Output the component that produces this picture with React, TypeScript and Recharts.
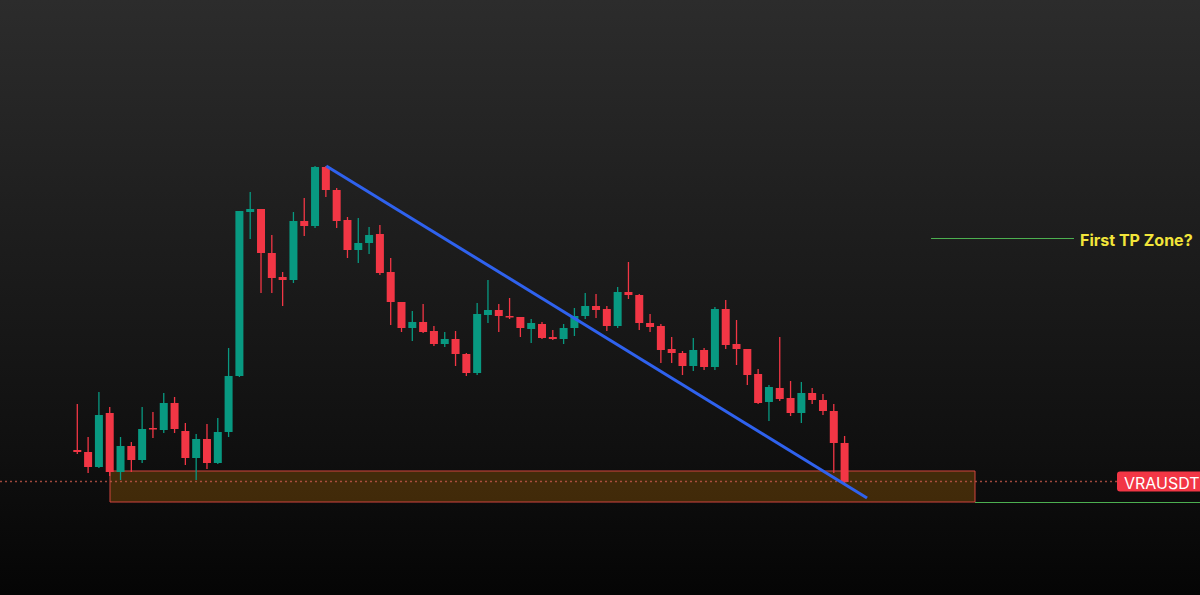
import React from 'react';
import {
  ComposedChart,
  Bar,
  XAxis,
  YAxis,
  ReferenceArea,
  ReferenceLine,
  ReferenceDot,
} from 'recharts';

// OHLC values (price units)
const opens = [
  1.70, 1.68, 1.53, 2.07, 1.48, 1.74, 1.60, 1.92, 1.90, 2.17,
  1.89, 1.62, 1.81, 1.57, 1.88, 2.44, 4.08, 4.11, 3.67, 3.43,
  3.40, 3.99, 3.94, 4.53, 4.30, 4.00, 3.70, 3.77, 3.86, 3.48,
  3.18, 2.92, 2.98, 2.89, 2.76, 2.81, 2.66, 2.47, 3.05, 3.10,
  3.04, 3.03, 2.91, 2.96, 2.83, 2.81, 2.92, 3.04, 3.14, 3.11,
  2.94, 3.28, 3.25, 2.97, 2.94, 2.71, 2.67, 2.54, 2.70, 2.53,
  3.11, 2.76, 2.71, 2.46, 2.18, 2.32, 2.22, 2.07, 2.27, 2.20,
  2.09, 1.77,
];
const highs = [
  2.16, 1.83, 2.28, 2.13, 1.83, 1.78, 2.13, 2.08, 2.27, 2.23,
  1.97, 1.86, 1.96, 2.02, 2.72, 4.09, 4.28, 4.11, 3.85, 3.48,
  4.08, 4.22, 4.54, 4.54, 4.32, 4.03, 4.02, 3.93, 3.95, 3.62,
  3.18, 3.09, 3.16, 2.94, 2.88, 2.89, 2.67, 3.17, 3.40, 3.16,
  3.22, 3.03, 3.01, 2.98, 2.90, 2.96, 3.12, 3.27, 3.26, 3.14,
  3.33, 3.58, 3.26, 3.06, 2.96, 2.83, 2.69, 2.82, 2.72, 3.13,
  3.20, 3.00, 2.71, 2.51, 2.35, 2.83, 2.39, 2.38, 2.32, 2.26,
  2.16, 1.84,
];
const lows = [
  1.66, 1.47, 1.52, 1.44, 1.40, 1.48, 1.57, 1.82, 1.87, 1.87,
  1.55, 1.40, 1.51, 1.56, 1.83, 2.43, 3.81, 3.27, 3.27, 3.14,
  3.37, 3.84, 3.92, 4.23, 3.92, 3.62, 3.57, 3.66, 3.45, 2.95,
  2.88, 2.79, 2.87, 2.74, 2.73, 2.54, 2.44, 2.45, 2.97, 2.88,
  3.01, 2.83, 2.77, 2.81, 2.80, 2.76, 2.84, 3.01, 3.02, 2.89,
  2.92, 3.21, 2.90, 2.88, 2.57, 2.57, 2.45, 2.49, 2.50, 2.50,
  2.71, 2.55, 2.35, 2.16, 1.99, 2.19, 2.04, 1.97, 2.16, 2.05,
  1.47, 1.37,
];
const closes = [
  1.68, 1.53, 2.05, 1.48, 1.74, 1.60, 1.91, 1.91, 2.17, 1.91,
  1.62, 1.81, 1.57, 1.88, 2.44, 4.09, 4.11, 3.67, 3.42, 3.40,
  3.99, 3.94, 4.53, 4.30, 3.99, 3.70, 3.77, 3.85, 3.47, 3.18,
  2.92, 2.98, 2.88, 2.76, 2.81, 2.66, 2.47, 3.06, 3.10, 3.04,
  3.03, 2.92, 2.97, 2.82, 2.81, 2.92, 3.04, 3.14, 3.10, 2.94,
  3.28, 3.25, 2.97, 2.93, 2.70, 2.67, 2.54, 2.70, 2.53, 3.11,
  2.75, 2.71, 2.45, 2.17, 2.33, 2.21, 2.07, 2.27, 2.20, 2.09,
  1.77, 1.38,
];

// annotation values
const lastPrice = 1.385;
const zone = { x1: 2.99, x2: 83.03, y1: 1.18, y2: 1.49 };
const trend = { x1: 23, y1: 4.54, x2: 73.04, y2: 1.22 };
const tpLine = { x1: 78.96, x2: 92.19, y: 3.815 };
const tpLabel = { x: 92.75, y: 3.8, text: 'First TP Zone?' };
const zoneExit = { x1: 83.03, x2: 103.85, y: 1.175 };
const symbolTag = { x: 96.17, text: 'VRAUSDT' };
const xDomain: [number, number] = [-7.19, 103.85];
const yDomain: [number, number] = [0.25, 6.2];

const UP = '#089981';
const DOWN = '#f23645';

const candles = opens.map((o, i) => ({
  i,
  open: o,
  high: highs[i],
  low: lows[i],
  close: closes[i],
  range: [lows[i], highs[i]],
}));

const Candle = (props: any) => {
  const { x, y, width, height, payload } = props;
  if (!payload) return null;
  const { open, close, high, low } = payload;
  const ratio = height / (high - low || 1);
  const color = close >= open ? UP : DOWN;
  const top = y + (high - Math.max(open, close)) * ratio;
  const bot = y + (high - Math.min(open, close)) * ratio;
  const bh = Math.max(bot - top, 1.5);
  const cx = x + width / 2;
  return (
    <g>
      <line x1={cx} x2={cx} y1={y} y2={y + height} stroke={color} strokeWidth={1.3} />
      <rect x={x} y={top} width={width} height={bh} fill={color} />
    </g>
  );
};

export default function App() {
  return (
    <div
      style={{
        position: 'fixed',
        left: 0,
        top: 0,
        width: 1200,
        height: 595,
        background: 'linear-gradient(to bottom, #2c2c2c 0%, #1b1b1b 45%, #101010 75%, #050505 100%)',
        fontFamily: 'Inter, "Noto Sans", sans-serif',
      }}
    >
      <ComposedChart
        width={1200}
        height={595}
        data={candles}
        margin={{ top: 0, right: 0, bottom: 0, left: 0 }}
      >
        <XAxis dataKey="i" type="number" domain={xDomain} hide allowDataOverflow />
        <YAxis type="number" domain={yDomain} hide allowDataOverflow />
        <ReferenceArea
          x1={zone.x1}
          x2={zone.x2}
          y1={zone.y1}
          y2={zone.y2}
          fill="#ff9800"
          fillOpacity={0.22}
          stroke="#d2453e"
          strokeWidth={1}
        />
        <ReferenceLine
          y={lastPrice}
          stroke="#c4584a"
          strokeOpacity={0.8}
          strokeDasharray="2 3"
          strokeWidth={1.3}
        />
        <ReferenceLine
          segment={[
            { x: zoneExit.x1, y: zoneExit.y },
            { x: zoneExit.x2, y: zoneExit.y },
          ]}
          stroke="#4caf50"
          strokeWidth={1}
        />
        <ReferenceLine
          segment={[
            { x: tpLine.x1, y: tpLine.y },
            { x: tpLine.x2, y: tpLine.y },
          ]}
          stroke="#4caf50"
          strokeWidth={1}
        />
        <Bar
          dataKey="range"
          barSize={8}
          shape={<Candle />}
          isAnimationActive={false}
        />
        <ReferenceLine
          segment={[
            { x: trend.x1, y: trend.y1 },
            { x: trend.x2, y: trend.y2 },
          ]}
          stroke="#2f62ee"
          strokeWidth={3}
        />
        <ReferenceDot
          x={tpLabel.x}
          y={tpLabel.y}
          r={0}
          shape={(p: any) => (
            <text
              x={p.cx}
              y={p.cy}
              dominantBaseline="central"
              fill="#f2e53a"
              fontSize={16}
              fontWeight={700}
              fontFamily='Inter, "Noto Sans", sans-serif'
            >
              {tpLabel.text}
            </text>
          )}
        />
        <ReferenceDot
          x={symbolTag.x}
          y={lastPrice}
          r={0}
          shape={(p: any) => (
            <g>
              <rect x={p.cx} y={p.cy - 10} width={95} height={20} rx={3} fill={DOWN} />
              <text
                x={p.cx + 7}
                y={p.cy + 1}
                dominantBaseline="central"
                fill="#ffffff"
                fontSize={16}
                fontFamily='Inter, "Noto Sans", sans-serif'
              >
                {symbolTag.text}
              </text>
            </g>
          )}
        />
      </ComposedChart>
    </div>
  );
}
